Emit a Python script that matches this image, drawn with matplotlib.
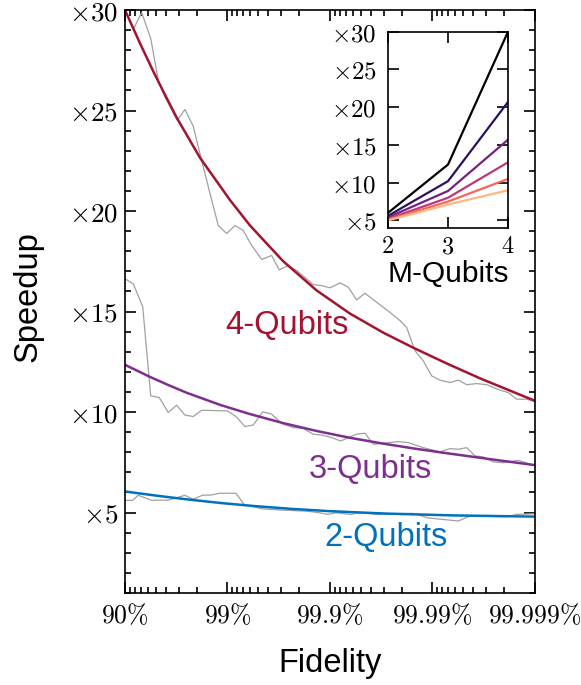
import matplotlib
matplotlib.use("Agg")
import matplotlib.pyplot as plt
import numpy as np

plt.rcParams['mathtext.fontset'] = 'cm'
plt.rcParams['font.family'] = ['Liberation Sans', 'DejaVu Sans']

# x is given as "nines" = -log10(1 - fidelity), 1 -> 90%, 5 -> 99.999%
fit4_nines = [1.00, 1.146, 1.276, 1.374, 1.504, 1.732, 2.024, 2.22, 2.544, 2.87,
              3.195, 3.52, 3.813, 4.138, 4.463, 4.788, 5.0]
fit4_speed = [30.0, 28.35, 26.95, 25.95, 24.65, 22.65, 20.55, 19.28, 17.5, 16.05,
              14.9, 13.95, 13.2, 12.42, 11.68, 11.0, 10.56]

raw4_nines = [1.00, 1.081, 1.163, 1.251, 1.325, 1.39, 1.51, 1.585, 1.666, 1.748,
              1.829, 1.91, 1.992, 2.073, 2.154, 2.236, 2.334, 2.431, 2.505, 2.593,
              2.675, 2.756, 2.837, 2.919, 3.0, 3.098, 3.179, 3.26, 3.341, 3.456,
              3.585, 3.683, 3.748, 3.829, 3.91, 3.992, 4.073, 4.171, 4.252, 4.334,
              4.431, 4.529, 4.659, 4.74, 4.822, 4.919, 5.0]
raw4_speed = [30.0, 29.04, 29.87, 28.59, 26.51, 25.68, 24.52, 25.05, 24.22, 22.52,
              20.88, 19.28, 18.88, 19.28, 19.03, 18.29, 17.59, 17.79, 17.07, 17.29,
              17.04, 16.70, 16.34, 16.29, 16.18, 16.43, 16.21, 15.58, 15.91, 15.46,
              14.96, 14.55, 14.21, 13.05, 12.55, 11.80, 11.59, 11.47, 11.59, 11.36,
              11.42, 11.36, 11.09, 10.97, 10.64, 10.64, 10.52]

fit3_nines = [1.00, 1.244, 1.407, 1.602, 1.927, 2.22, 2.544, 2.87, 3.195, 3.52,
              3.83, 4.073, 4.56, 5.0]
fit3_speed = [12.35, 11.75, 11.38, 10.96, 10.36, 9.90, 9.45, 9.06, 8.72, 8.43,
              8.18, 8.0, 7.66, 7.36]

raw3_nines = [1.00, 1.081, 1.173, 1.251, 1.335, 1.422, 1.504, 1.585, 1.666, 1.748,
              1.998, 2.083, 2.171, 2.252, 2.343, 2.431, 2.529, 2.642, 2.74, 2.837,
              2.919, 3.017, 3.104, 3.195, 3.26, 3.341, 3.422, 3.52, 3.666, 3.764,
              3.91, 4.073, 4.171, 4.252, 4.334, 4.415, 4.496, 4.593, 4.691, 4.837,
              4.983]
raw3_speed = [16.63, 16.38, 15.24, 10.81, 10.72, 9.98, 10.34, 9.85, 9.78, 10.09,
              10.06, 9.78, 9.28, 9.36, 10.01, 9.90, 9.43, 9.23, 9.18, 8.90,
              8.86, 8.73, 8.56, 8.76, 8.90, 8.95, 8.40, 8.45, 8.53, 8.48,
              8.23, 8.02, 8.18, 8.15, 8.23, 7.82, 7.77, 7.52, 7.48, 7.60,
              7.37]

fit2_nines = [1.00, 1.341, 1.602, 1.927, 2.251, 2.61, 3.0, 3.553, 4.203, 5.0]
fit2_speed = [6.05, 5.82, 5.66, 5.48, 5.33, 5.19, 5.07, 4.95, 4.86, 4.80]

raw2_nines = [1.00, 1.075, 1.129, 1.26, 1.423, 1.585, 1.666, 1.758, 1.836, 1.92,
              2.083, 2.161, 2.334, 2.512, 2.773, 2.902, 2.976, 3.057, 3.203, 3.285,
              3.463, 3.626, 3.821, 3.951, 4.252, 4.366, 4.724, 4.821, 4.984]
raw2_speed = [5.61, 5.61, 5.86, 5.61, 5.62, 5.86, 5.66, 5.87, 5.87, 5.96,
              5.96, 5.41, 5.19, 5.13, 5.07, 4.99, 4.91, 4.99, 4.91, 4.99,
              4.91, 4.94, 4.96, 4.74, 4.58, 4.83, 4.79, 4.91, 4.94]

tick_nines = [1, 2, 3, 4, 5]
tick_labels = [r'$90\%$', r'$99\%$', r'$99.9\%$', r'$99.99\%$', r'$99.999\%$']
y_ticks = [5, 10, 15, 20, 25, 30]

# inset: speedup vs number of qubits, one line per fidelity level
m_qubits = [2, 3, 4]
inset_speed = [
    [6.0, 12.4, 30.0],
    [5.6, 10.2, 20.7],
    [5.4, 8.9, 15.7],
    [5.2, 8.0, 12.7],
    [5.1, 7.5, 10.5],
    [5.0, 7.1, 9.0],
]

red = '#A2142F'
purple = '#7E2F8E'
blue = '#0072BD'
gray = '#a0a0a0'


def to_x(n):
    return 10.0 ** (-np.asarray(n, dtype=float))


fig = plt.figure(figsize=(5.81, 6.85), dpi=100)
ax = fig.add_axes([0.2151, 0.1343, 0.7057, 0.8511])

ax.plot(to_x(raw4_nines), raw4_speed, color=gray, lw=0.9)
ax.plot(to_x(raw3_nines), raw3_speed, color=gray, lw=0.9)
ax.plot(to_x(raw2_nines), raw2_speed, color=gray, lw=0.9)
ax.plot(to_x(fit4_nines), fit4_speed, color=red, lw=1.8)
ax.plot(to_x(fit3_nines), fit3_speed, color=purple, lw=1.8)
ax.plot(to_x(fit2_nines), fit2_speed, color=blue, lw=1.8)

# curve labels
ax.text(to_x(2.58), 14.3, '4-Qubits', color=red, fontsize=23.5, ha='center', va='center')
ax.text(to_x(3.39), 7.15, '3-Qubits', color=purple, fontsize=23.5, ha='center', va='center')
ax.text(to_x(3.546), 3.75, '2-Qubits', color=blue, fontsize=23.5, ha='center', va='center')

ax.set_xscale('log')
ax.set_xlim(1e-1, 1e-5)
ax.set_ylim(1, 30)
ax.set_xticks(to_x(tick_nines))
ax.set_xticklabels(tick_labels, fontsize=18.5)
ax.set_yticks(y_ticks)
ax.set_yticklabels([r'$\times%d$' % v for v in y_ticks], fontsize=19.5)
ax.yaxis.set_minor_locator(matplotlib.ticker.MultipleLocator(1))
ax.tick_params(which='both', direction='in', top=True, right=True, width=1.2)
ax.tick_params(which='major', length=8)
ax.tick_params(which='minor', length=4.3)
ax.tick_params(axis='x', pad=7)
ax.tick_params(axis='y', pad=5)
for s in ax.spines.values():
    s.set_linewidth(1.2)
ax.set_xlabel('Fidelity', fontsize=23.5)
ax.set_ylabel('Speedup', fontsize=23.5)
ax.xaxis.set_label_coords(0.5, -0.095)
ax.yaxis.set_label_coords(-0.198, 0.508)

ins = fig.add_axes([0.6678, 0.6672, 0.2066, 0.2865])
cols = plt.cm.magma(np.linspace(0, 0.85, len(inset_speed)))
for row, c in zip(inset_speed, cols):
    ins.plot(m_qubits, row, color=c, lw=1.6)
ins.set_xlim(2, 4)
ins.set_ylim(4, 30)
ins.set_xticks(m_qubits)
ins.set_xticklabels([r'$%d$' % v for v in m_qubits], fontsize=17.5)
ins.set_yticks(y_ticks)
ins.set_yticklabels([r'$\times%d$' % v for v in y_ticks], fontsize=18)
ins.tick_params(direction='in', top=True, right=True, length=8, width=1.2)
ins.tick_params(axis='x', pad=6)
ins.tick_params(axis='y', pad=8)
for s in ins.spines.values():
    s.set_linewidth(1.2)
ins.set_xlabel('M-Qubits', fontsize=21.5, labelpad=1)

fig.savefig('out.png', dpi=100)
